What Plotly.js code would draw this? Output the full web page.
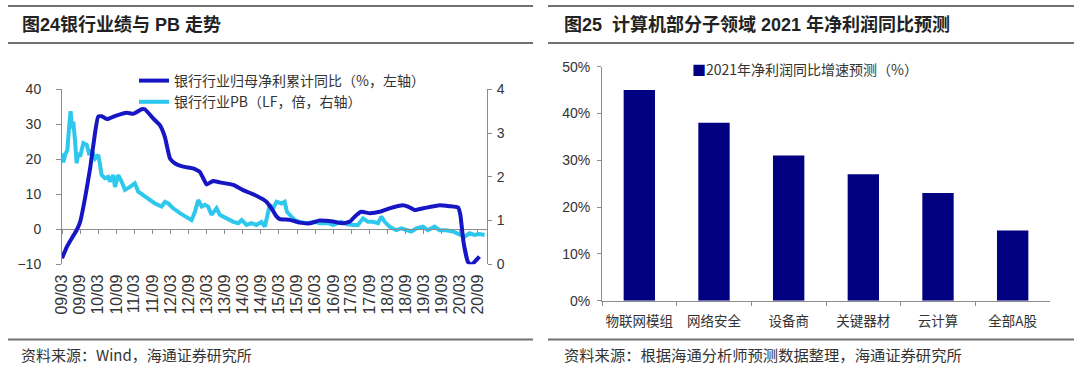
<!DOCTYPE html>
<html>
<head>
<meta charset="utf-8">
<script src="https://cdn.plot.ly/plotly-3.0.1.min.js"></script>
<style>html,body{margin:0;padding:0;background:#fff;}#chart{width:1080px;height:365px;}</style>
</head>
<body>
<div id="chart"></div>
<script>
// ---------- Left chart: 银行业绩与 PB 走势 ----------
const leftTitle = '图24银行业绩与 PB 走势';
const leftSource = '资料来源：Wind，海通证券研究所';
const profitName = '银行行业归母净利累计同比（%，左轴）';
const pbName = '银行行业PB（LF，倍，右轴）';
const xTickLabels = ['09/03','09/09','10/03','10/09','11/03','11/09','12/03','12/09','13/03','13/09','14/03','14/09',
  '15/03','15/09','16/03','16/09','17/03','17/09','18/03','18/09','19/03','19/09','20/03','20/09'];
const profitDates = ['2009-03-01','2009-04-19','2009-06-07','2009-07-28','2009-09-01','2009-10-19','2009-12-10',
  '2010-01-28','2010-03-01','2010-04-07','2010-06-01','2010-09-01','2010-12-13','2011-02-19','2011-05-13',
  '2011-06-16','2011-09-10','2011-11-16','2012-01-04','2012-02-25','2012-04-16','2012-07-07','2012-10-16',
  '2012-12-22','2013-01-25','2013-03-01','2013-05-04','2013-07-13','2013-11-25','2014-03-04','2014-07-16',
  '2014-10-25','2014-12-16','2015-02-07','2015-03-10','2015-06-19','2015-09-28','2016-01-07','2016-04-16',
  '2016-08-28','2016-12-07','2017-02-16','2017-04-04','2017-06-10','2017-09-04','2017-12-13','2018-03-22',
  '2018-08-04','2018-09-25','2018-12-01','2019-02-25','2019-08-10','2019-11-19','2020-02-13','2020-03-07',
  '2020-04-07','2020-05-22','2020-06-25','2020-07-28','2020-09-16'];
const profitValues = [-8.3,-5.0,-2.6,-0.2,2.2,8.8,17.4,27.4,32.2,32.3,31.5,32.5,33.3,33.0,34.3,34.3,31.6,29.7,
  26.4,20.2,18.8,17.9,17.4,16.4,14.6,12.8,13.8,13.4,12.7,11.2,9.6,7.9,6.0,3.6,2.9,2.7,1.9,1.7,2.5,2.2,1.7,2.2,
  3.6,5.0,4.6,5.0,6.0,6.9,6.5,5.5,6.0,6.9,6.6,6.2,4.1,-3.5,-9.3,-10.2,-9.3,-7.8];
const pbDates = ['2009-03-01','2009-03-14','2009-04-01','2009-04-24','2009-05-13','2009-05-27','2009-06-10',
  '2009-06-23','2009-07-10','2009-07-27','2009-08-13','2009-08-30','2009-10-03','2009-11-06','2009-12-02',
  '2009-12-26','2010-01-29','2010-03-02','2010-03-18','2010-04-05','2010-05-08','2010-06-11','2010-06-28',
  '2010-08-01','2010-08-18','2010-09-20','2010-10-24','2010-11-27','2011-01-17','2011-03-07','2011-04-10',
  '2011-05-30','2011-07-19','2011-09-26','2011-12-02','2012-01-05','2012-02-08','2012-03-28','2012-06-04',
  '2012-08-11','2012-09-30','2012-11-03','2012-12-06','2013-01-10','2013-02-12','2013-03-16','2013-04-02',
  '2013-04-19','2013-06-09','2013-07-12','2013-09-19','2013-11-25','2014-01-14','2014-02-18','2014-04-08',
  '2014-05-28','2014-07-17','2014-09-06','2014-10-10','2014-11-12','2014-11-29','2015-01-02','2015-02-06',
  '2015-03-26','2015-04-28','2015-05-21','2015-06-18','2015-08-08','2015-09-28','2015-12-04','2016-02-27',
  '2016-04-17','2016-07-09','2016-08-29','2016-11-22','2017-01-12','2017-03-17','2017-05-07','2017-06-27',
  '2017-08-17','2017-10-06','2017-11-26','2017-12-30','2018-02-02','2018-03-23','2018-05-29','2018-07-19',
  '2018-09-08','2018-10-28','2018-12-18','2019-02-23','2019-04-13','2019-06-20','2019-08-09','2019-10-16',
  '2019-12-22','2020-02-28','2020-04-18','2020-06-08','2020-07-28','2020-09-17','2020-11-07'];
const pbValues = [2.54,2.33,2.50,2.61,3.18,3.50,3.11,3.26,2.84,2.31,2.54,2.46,2.77,2.73,2.50,2.61,2.42,2.50,
  2.31,2.04,1.97,2.00,1.89,2.04,1.77,2.04,1.89,1.70,1.77,1.85,1.66,1.58,1.51,1.39,1.32,1.43,1.39,1.28,1.17,
  1.09,1.01,1.20,1.47,1.32,1.36,1.32,1.20,1.13,1.28,1.13,1.05,0.97,0.94,1.01,0.90,0.94,0.90,0.97,0.86,1.20,
  1.36,1.28,1.43,1.39,1.43,1.20,1.13,1.01,0.97,0.94,0.97,0.94,0.94,0.90,0.97,0.92,0.90,0.90,1.05,0.97,0.97,
  0.94,1.09,0.97,0.86,0.78,0.82,0.78,0.75,0.82,0.86,0.78,0.86,0.78,0.78,0.75,0.67,0.63,0.71,0.67,0.69,0.67];

// ---------- Right chart: 计算机部分子领域 2021 年净利润同比预测 ----------
const rightTitle = '图25\u00a0\u00a0计算机部分子领域 2021 年净利润同比预测';
const rightSource = '资料来源：根据海通分析师预测数据整理，海通证券研究所';
const barName = '2021年净利润同比增速预测（%）';
const categories = ['物联网模组','网络安全','设备商','关键器材','云计算','全部A股'];
const growthValues = [45, 38, 31, 27, 23, 15];

// ---------- layout helpers (pixel -> paper) ----------
const W = 1080, H = 365;
const px = v => v / W;
const py = v => 1 - v / H;

const tickDates = xTickLabels.map(s => '20' + s.slice(0, 2) + '-' + s.slice(3) + '-01');
const dateRange = ['2009-03-01', '2020-12-01'];
const leftY = [py(264.3), py(89.3)];
const zeroPos = leftY[0] + (0 - (-10)) / 50 * (leftY[1] - leftY[0]);

const numFont = 'Liberation Sans, Arial, Noto Sans CJK SC, sans-serif';
const cjkFont = 'Noto Sans CJK SC, Liberation Sans, sans-serif';
const axisGray = '#8c8c8c';

const traces = [
  {
    type: 'scatter', mode: 'lines', name: profitName,
    x: profitDates, y: profitValues, xaxis: 'x2', yaxis: 'y',
    line: {color: '#1616c4', width: 4, shape: 'spline', smoothing: 0.4},
    legend: 'legend'
  },
  {
    type: 'scatter', mode: 'lines', name: pbName,
    x: pbDates, y: pbValues, xaxis: 'x', yaxis: 'y2',
    line: {color: '#2ec8ee', width: 4},
    legend: 'legend'
  },
  {
    type: 'bar', name: barName, x: categories, y: growthValues,
    xaxis: 'x3', yaxis: 'y3', marker: {color: '#000080'},
    showlegend: false
  }
];

const layout = {
  width: W, height: H,
  margin: {l: 0, r: 0, t: 0, b: 0},
  paper_bgcolor: '#ffffff', plot_bgcolor: 'rgba(0,0,0,0)',
  font: {family: numFont, color: '#333', size: 14},
  showlegend: true,
  legend: {
    x: px(134), y: py(65), xanchor: 'left', yanchor: 'top',
    bgcolor: 'rgba(0,0,0,0)', font: {family: cjkFont, size: 14, color: '#333'},
    tracegroupgap: 0, itemwidth: 30
  },
  xaxis: {
    domain: [px(62), px(487)], anchor: 'y', type: 'date', range: dateRange,
    tickmode: 'array', tickvals: tickDates, ticktext: xTickLabels, tickangle: -90,
    showline: false, ticks: '', showgrid: false, zeroline: false,
    tickfont: {family: numFont, size: 16, color: '#333'}, ticklabelstandoff: 6
  },
  xaxis2: {
    overlaying: 'x', anchor: 'free', position: zeroPos, type: 'date', range: dateRange,
    tickmode: 'array', tickvals: tickDates, showticklabels: false,
    ticks: 'outside', ticklen: 4, tickcolor: axisGray, showline: true, linecolor: axisGray, linewidth: 1,
    showgrid: false, zeroline: false, layer: 'below traces'
  },
  yaxis: {
    domain: leftY, anchor: 'x', range: [-10, 40], dtick: 10, tick0: 0,
    showline: true, linecolor: axisGray, ticks: 'outside', ticklen: 5, tickcolor: axisGray,
    showgrid: false, zeroline: false, tickfont: {family: numFont, size: 14, color: '#333'},
    ticklabelstandoff: 12
  },
  yaxis2: {
    overlaying: 'y', side: 'right', anchor: 'x', range: [0, 4], dtick: 1,
    showline: true, linecolor: axisGray, ticks: 'outside', ticklen: 4, tickcolor: axisGray,
    showgrid: false, zeroline: false, tickfont: {family: numFont, size: 14, color: '#333'},
    ticklabelstandoff: 2
  },
  xaxis3: {
    domain: [px(602), px(1050)], anchor: 'y3', type: 'category', range: [-0.5, 5.5],
    showline: true, linecolor: axisGray, ticks: 'outside', ticklen: 4, tickcolor: axisGray,
    tickson: 'boundaries', showgrid: false, zeroline: false, tickangle: 0,
    tickfont: {family: cjkFont, size: 13.5, color: '#333'}, ticklabelstandoff: 8
  },
  yaxis3: {
    domain: [py(300.7), py(66.7)], anchor: 'x3', range: [0, 50], dtick: 10, ticksuffix: '%',
    showline: true, linecolor: axisGray, ticks: 'outside', ticklen: 4, tickcolor: axisGray,
    showgrid: false, zeroline: false, tickfont: {family: numFont, size: 14, color: '#333'},
    ticklabelstandoff: 4
  },
  bargap: 0.58,
  shapes: [
    {type: 'line', xref: 'paper', yref: 'paper', x0: px(8), x1: px(533), y0: py(6), y1: py(6), line: {color: '#707070', width: 2}},
    {type: 'line', xref: 'paper', yref: 'paper', x0: px(8), x1: px(533), y0: py(43), y1: py(43), line: {color: '#707070', width: 2}},
    {type: 'line', xref: 'paper', yref: 'paper', x0: px(8), x1: px(533), y0: py(339.5), y1: py(339.5), line: {color: '#707070', width: 2}},
    {type: 'line', xref: 'paper', yref: 'paper', x0: px(548), x1: px(1074), y0: py(6), y1: py(6), line: {color: '#707070', width: 2}},
    {type: 'line', xref: 'paper', yref: 'paper', x0: px(548), x1: px(1074), y0: py(43), y1: py(43), line: {color: '#707070', width: 2}},
    {type: 'line', xref: 'paper', yref: 'paper', x0: px(548), x1: px(1074), y0: py(339.5), y1: py(339.5), line: {color: '#707070', width: 2}}
  ],
  annotations: [
    {text: leftTitle, xref: 'paper', yref: 'paper', x: px(20), y: py(24.5), xanchor: 'left', yanchor: 'middle',
     showarrow: false, font: {family: numFont, size: 18, color: '#222', weight: 'bold'}},
    {text: rightTitle, xref: 'paper', yref: 'paper', x: px(562), y: py(24.5), xanchor: 'left', yanchor: 'middle',
     showarrow: false, font: {family: numFont, size: 18, color: '#222', weight: 'bold'}},
    {text: leftSource, xref: 'paper', yref: 'paper', x: px(19), y: py(354), xanchor: 'left', yanchor: 'middle',
     showarrow: false, font: {family: cjkFont, size: 15, color: '#333'}},
    {text: rightSource, xref: 'paper', yref: 'paper', x: px(562), y: py(354), xanchor: 'left', yanchor: 'middle',
     showarrow: false, font: {family: cjkFont, size: 15.3, color: '#333'}},
    {text: '<span style="color:#000080">■</span>' + barName, xref: 'paper', yref: 'paper', x: px(690), y: py(69),
     xanchor: 'left', yanchor: 'middle', showarrow: false, font: {family: cjkFont, size: 14, color: '#333'}}
  ]
};

Plotly.newPlot('chart', traces, layout, {staticPlot: true, displayModeBar: false});
</script>
</body>
</html>
